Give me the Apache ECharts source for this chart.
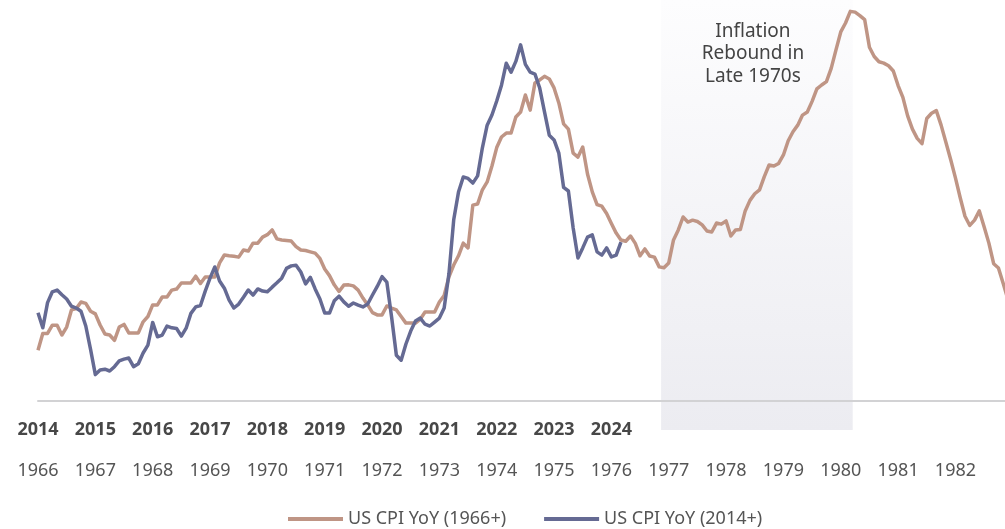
<!DOCTYPE html>
<html>
<head>
<meta charset="utf-8">
<script src="https://cdn.jsdelivr.net/npm/echarts@6/dist/echarts.min.js"></script>
<style>
  html, body { margin: 0; padding: 0; background: #fff; }
  #chart { width: 1005px; height: 529px; }
</style>
</head>
<body>
<div id="chart"></div>
<script>
// tick labels, one per January
const yearsEarly = ['1966', '1967', '1968', '1969', '1970', '1971', '1972', '1973', '1974',
  '1975', '1976', '1977', '1978', '1979', '1980', '1981', '1982'];
const yearsRecent = ['2014', '2015', '2016', '2017', '2018', '2019', '2020', '2021', '2022',
  '2023', '2024'];

// US CPI YoY (%), monthly from Jan 1966
const cpi1966 = [
  1.92, 2.56, 2.56, 2.87, 2.87, 2.5, 2.8, 3.45, 3.5, 3.75, 3.7, 3.4,
  3.3, 2.88, 2.54, 2.5, 2.3, 2.8, 2.9, 2.58, 2.58, 2.58, 3.0, 3.2,
  3.64, 3.64, 3.94, 3.94, 4.2, 4.24, 4.47, 4.47, 4.47, 4.73, 4.45, 4.7,
  4.7, 4.7, 5.23, 5.53, 5.5, 5.48, 5.45, 5.72, 5.68, 5.98, 5.98, 6.21,
  6.3, 6.48, 6.14, 6.1, 6.08, 6.06, 5.85, 5.72, 5.7, 5.65, 5.6, 5.4,
  5.0, 4.75, 4.4, 4.15, 4.39, 4.4, 4.36, 4.2, 3.9, 3.64, 3.35, 3.26,
  3.26, 3.6, 3.52, 3.45, 3.2, 2.95, 2.95, 2.95, 3.1, 3.37, 3.37, 3.37,
  3.75, 4.0, 4.7, 5.15, 5.5, 5.98, 5.8, 7.42, 7.46, 8.0, 8.3, 8.9,
  9.6, 10.0, 10.15, 10.15, 10.76, 10.95, 11.59, 11.02, 12.05, 12.16, 12.3, 12.2,
  11.86, 11.29, 10.5, 10.3, 9.39, 9.24, 9.62, 8.6, 7.92, 7.44, 7.38, 7.1,
  6.72, 6.36, 6.1, 6.05, 6.25, 5.97, 5.5, 5.76, 5.49, 5.45, 5.08, 5.05,
  5.23, 6.1, 6.48, 6.97, 6.78, 6.85, 6.8, 6.67, 6.44, 6.4, 6.74, 6.7,
  6.82, 6.25, 6.48, 6.5, 7.2, 7.6, 7.85, 8.0, 8.5, 8.94, 8.9, 9.0,
  9.32, 9.86, 10.2, 10.45, 10.83, 10.95, 11.35, 11.82, 11.97, 12.1, 12.6, 13.3,
  13.98, 14.32, 14.76, 14.73, 14.6, 14.45, 13.4, 13.05, 12.85, 12.8, 12.7, 12.5,
  11.95, 11.5, 10.8, 10.3, 9.95, 9.75, 10.7, 10.9, 11.0, 10.45, 9.8, 9.15,
  8.45, 7.7, 7.0, 6.65, 6.85, 7.2, 6.6, 5.98, 5.2, 5.04, 4.45, 3.83
];

// US CPI YoY (%), monthly from Jan 2014
const cpi2014 = [
  1.62, 1.2, 1.9, 2.2, 2.25, 2.12, 2.0, 1.8, 1.75, 1.66, 1.25, 0.6,
  -0.1, 0.03, 0.05, 0.0, 0.12, 0.28, 0.33, 0.36, 0.12, 0.2, 0.5, 0.72,
  1.35, 0.95, 1.0, 1.25, 1.2, 1.18, 0.97, 1.19, 1.6, 1.78, 1.82, 2.22,
  2.58, 2.89, 2.5, 2.3, 1.97, 1.75, 1.86, 2.05, 2.25, 2.11, 2.28, 2.22,
  2.2, 2.33, 2.45, 2.58, 2.85, 2.92, 2.94, 2.75, 2.42, 2.6, 2.28, 2.0,
  1.61, 1.61, 1.95, 2.08, 1.92, 1.8, 1.89, 1.83, 1.78, 1.86, 2.11, 2.35,
  2.62, 2.47, 1.5, 0.44, 0.3, 0.75, 1.11, 1.39, 1.47, 1.3, 1.25, 1.36,
  1.47, 1.75, 2.7, 4.2, 4.97, 5.39, 5.35, 5.22, 5.42, 6.2, 6.83, 7.11,
  7.5, 7.94, 8.55, 8.3, 8.6, 9.06, 8.52, 8.3, 8.25, 7.86, 7.2, 6.55,
  6.42, 6.05, 5.1, 5.0, 3.97, 3.14, 3.42, 3.72, 3.78, 3.31, 3.22, 3.42,
  3.17, 3.22, 3.58
];

// shaded period, in months counted from Jan 1966
const reboundFrom = 130.4;
const reboundTo = 170.5;
const reboundText = 'Inflation\nRebound in\nLate 1970s';

const brown = '#bf9585';
const navy = '#656a93';

const chart = echarts.init(document.getElementById('chart'));

const option = {
  animation: false,
  grid: {
    left: 38,
    right: -3,
    top: 0,
    bottom: 128,
    containLabel: false,
    outerBoundsMode: 'none',
  },
  legend: {
    left: 283,
    top: 505,
    icon: 'rect',
    itemWidth: 55,
    itemHeight: 4,
    itemGap: 38,
    textStyle: { fontSize: 18, color: '#555', fontFamily: 'Noto Sans' },
    data: ['US CPI YoY (1966+)', 'US CPI YoY (2014+)'],
  },
  xAxis: [
    {
      // 1966 row
      type: 'value',
      min: 0,
      max: 203,
      interval: 12,
      z: 10,
      axisLine: { show: true, onZero: false, lineStyle: { color: '#d2d2d4', width: 2 } },
      axisTick: { show: false },
      splitLine: { show: false },
      axisLabel: {
        margin: 61,
        fontSize: 18,
        color: '#555',
        fontFamily: 'Noto Sans',
        formatter: (v) => yearsEarly[v / 12] || '',
      },
    },
    {
      // 2014 row
      type: 'value',
      position: 'bottom',
      min: 0,
      max: 203,
      interval: 12,
      axisLine: { show: false, onZero: false },
      axisTick: { show: false },
      splitLine: { show: false },
      axisLabel: {
        margin: 20,
        fontSize: 18,
        fontWeight: 'bold',
        color: '#474747',
        fontFamily: 'Noto Sans',
        formatter: (v) => yearsRecent[v / 12] || '',
      },
    },
  ],
  yAxis: [
    { type: 'value', min: 0, max: 15.19, show: false, splitLine: { show: false } },
    { type: 'value', min: -0.833, max: 10.306, show: false, splitLine: { show: false } },
  ],
  series: [
    {
      name: 'US CPI YoY (1966+)',
      type: 'line',
      xAxisIndex: 0,
      yAxisIndex: 0,
      data: cpi1966.map((v, i) => [i, v]),
      symbol: 'none',
      clip: false,
      lineStyle: { color: brown, width: 3.5, join: 'round' },
      itemStyle: { color: brown },
      markArea: {
        silent: true,
        itemStyle: {
          opacity: 1,
          color: new echarts.graphic.LinearGradient(0, 0, 0, 1, [
            { offset: 0, color: '#fdfdfe' },
            { offset: 1, color: '#ececf1' },
          ]),
        },
        label: {
          show: true,
          position: 'insideTop',
          distance: 20,
          offset: [-4, 0],
          fontSize: 19,
          lineHeight: 22.5,
          color: '#444',
          fontFamily: 'Noto Sans',
          formatter: reboundText,
        },
        data: [[{ xAxis: reboundFrom, y: 0 }, { xAxis: reboundTo, y: 430 }]],
      },
    },
    {
      name: 'US CPI YoY (2014+)',
      type: 'line',
      xAxisIndex: 1,
      yAxisIndex: 1,
      data: cpi2014.map((v, i) => [i, v]),
      symbol: 'none',
      lineStyle: { color: navy, width: 3.5, join: 'round' },
      itemStyle: { color: navy },
    },
  ],
};

chart.setOption(option);
</script>
</body>
</html>
